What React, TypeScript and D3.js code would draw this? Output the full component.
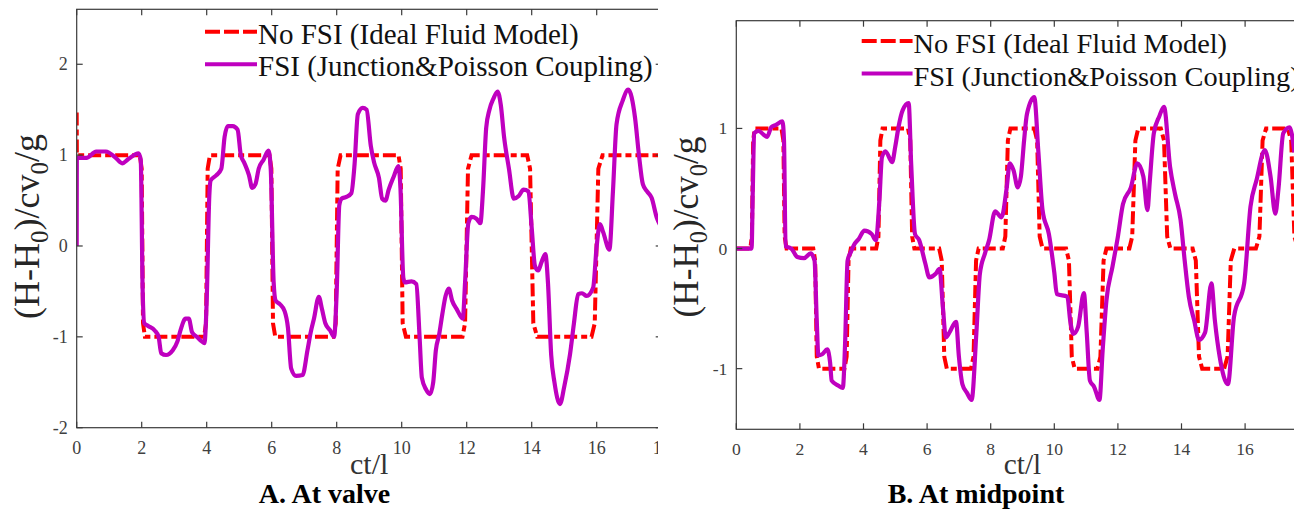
import React from "react";
import * as d3 from "d3";

// ---------- DATA ----------
const xTicks = [0, 2, 4, 6, 8, 10, 12, 14, 16, 18];
const valveYTicks = [-2, -1, 0, 1, 2];
const midYTicks = [-1, 0, 1];
const legendLabels = ["No FSI (Ideal Fluid Model)", "FSI (Junction&Poisson Coupling)"];
const subtitles = ["A. At valve", "B. At midpoint"];

// A. At valve – No FSI (ideal fluid model)
const valveNoFsi: [number, number][] = [
  [0, 1.47], [0.005, 1.0], [1.94, 1], [2.0, 0.85], [2.04, -0.85], [2.1, -1],
  [3.92, -1], [3.98, -0.85], [4.03, 0.85], [4.1, 1],
  [5.93, 1], [5.99, 0.85], [6.04, -0.85], [6.11, -1],
  [7.9, -1], [7.97, -0.85], [8.03, 0.85], [8.12, 1],
  [9.9, 1], [9.97, 0.85], [10.03, -0.85], [10.13, -1],
  [11.87, -1], [11.95, -0.85], [12.04, 0.85], [12.15, 1],
  [13.86, 1], [13.95, 0.85], [14.05, -0.85], [14.17, -1],
  [15.84, -1], [15.94, -0.85], [16.05, 0.85], [16.18, 1],
  [18, 1],
];

// A. At valve – FSI (junction & Poisson coupling)
const valveFsi: [number, number][] = [
  [0, 0], [0.005, 0.97], [0.3, 0.97], [0.6, 1.04], [0.9, 1.04], [1.2, 0.97], [1.4, 0.91], [1.6, 0.96], [1.9, 1.02], [1.97, 0.95],
  [2.03, -0.5], [2.08, -0.85], [2.2, -0.88], [2.4, -0.93], [2.52, -1.0], [2.6, -1.18], [2.75, -1.2], [2.95, -1.15], [3.1, -1.05], [3.2, -0.92], [3.35, -0.8], [3.45, -0.8], [3.55, -0.95], [3.7, -1.0], [3.85, -1.05], [3.93, -1.07],
  [4.0, -0.6], [4.08, 0.55], [4.12, 0.72], [4.3, 0.78], [4.45, 0.85], [4.55, 1.2], [4.65, 1.32], [4.8, 1.32], [4.95, 1.28], [5.05, 1.0], [5.15, 0.92], [5.3, 0.78], [5.4, 0.64], [5.5, 0.68], [5.6, 0.85], [5.75, 0.95], [5.9, 1.05],
  [5.97, 0.85], [6.06, -0.4], [6.12, -0.6], [6.25, -0.64], [6.4, -0.72], [6.5, -0.9], [6.6, -1.35], [6.75, -1.43], [6.95, -1.42], [7.1, -1.15], [7.2, -0.95], [7.3, -0.8], [7.45, -0.56], [7.55, -0.7], [7.65, -0.85], [7.8, -0.93], [7.92, -1.0],
  [8.0, -0.5], [8.08, 0.45], [8.15, 0.52], [8.3, 0.54], [8.45, 0.58], [8.55, 0.9], [8.65, 1.45], [8.8, 1.52], [8.92, 1.5], [9.05, 1.1], [9.15, 0.92], [9.3, 0.75], [9.4, 0.52], [9.5, 0.5], [9.6, 0.62], [9.75, 0.76], [9.9, 0.88],
  [9.96, 0.65], [10.05, -0.35], [10.1, -0.4], [10.3, -0.39], [10.45, -0.42], [10.55, -1.0], [10.62, -1.45], [10.75, -1.58], [10.87, -1.63], [10.97, -1.5], [11.05, -1.15], [11.15, -0.98], [11.25, -0.75], [11.35, -0.55], [11.45, -0.47], [11.55, -0.6], [11.7, -0.7], [11.88, -0.8],
  [11.95, -0.4], [12.05, 0.25], [12.15, 0.32], [12.3, 0.3], [12.42, 0.25], [12.5, 0.6], [12.6, 1.3], [12.7, 1.5], [12.82, 1.62], [12.95, 1.7], [13.05, 1.55], [13.15, 1.2], [13.3, 0.85], [13.45, 0.52], [13.6, 0.55], [13.75, 0.62], [13.9, 0.6],
  [14.0, 0.2], [14.1, -0.22], [14.2, -0.27], [14.3, -0.18], [14.42, -0.09], [14.5, -0.4], [14.6, -1.2], [14.7, -1.5], [14.87, -1.74], [15.0, -1.55], [15.18, -1.19], [15.3, -0.85], [15.43, -0.53], [15.55, -0.52], [15.69, -0.55], [15.89, -0.46],
  [16.0, 0.0], [16.1, 0.24], [16.2, 0.15], [16.39, -0.04], [16.5, 0.6], [16.61, 1.34], [16.8, 1.6], [16.97, 1.72], [17.18, 1.41], [17.3, 1.0], [17.42, 0.68], [17.55, 0.6], [17.69, 0.53], [17.85, 0.31], [18, 0.2],
];

// B. At midpoint – No FSI
const midNoFsi: [number, number][] = [
  [0, 0], [0.44, 0], [0.49, 0.1], [0.53, 0.9], [0.58, 1], [1.42, 1], [1.48, 0.9], [1.52, 0.1], [1.58, 0],
  [2.42, 0], [2.48, -0.1], [2.53, -0.9], [2.6, -1], [3.4, -1], [3.47, -0.9], [3.53, -0.1], [3.6, 0],
  [4.4, 0], [4.47, 0.1], [4.53, 0.9], [4.6, 1], [5.4, 1], [5.47, 0.9], [5.53, 0.1], [5.6, 0],
  [6.38, 0], [6.46, -0.1], [6.54, -0.9], [6.62, -1], [7.38, -1], [7.46, -0.9], [7.54, -0.1], [7.62, 0],
  [8.38, 0], [8.46, 0.1], [8.54, 0.9], [8.62, 1], [9.37, 1], [9.46, 0.9], [9.54, 0.1], [9.63, 0],
  [10.37, 0], [10.46, -0.1], [10.55, -0.9], [10.64, -1], [11.36, -1], [11.45, -0.9], [11.55, -0.1], [11.64, 0],
  [12.36, 0], [12.45, 0.1], [12.55, 0.9], [12.64, 1], [13.35, 1], [13.45, 0.9], [13.55, 0.1], [13.65, 0],
  [14.35, 0], [14.45, -0.1], [14.55, -0.9], [14.65, -1], [15.34, -1], [15.45, -0.9], [15.55, -0.1], [15.66, 0],
  [16.34, 0], [16.45, 0.1], [16.55, 0.9], [16.66, 1], [17.34, 1], [17.45, 0.9], [17.55, 0.1], [17.66, 0],
  [18, 0],
];

// B. At midpoint – FSI
const midFsi: [number, number][] = [
  [0, 0], [0.48, 0], [0.52, 0.5], [0.56, 0.96], [0.7, 0.98], [0.85, 0.95], [0.97, 0.93], [1.1, 1.01], [1.25, 1.03], [1.45, 1.06], [1.5, 0.9], [1.55, 0.02],
  [1.73, 0], [1.92, -0.07], [2.13, -0.08], [2.34, -0.04], [2.46, -0.1], [2.53, -0.6], [2.58, -0.89], [2.7, -0.88], [2.86, -0.84], [2.95, -0.95], [3.0, -1.1], [3.2, -1.14], [3.35, -1.16],
  [3.42, -0.8], [3.5, -0.1], [3.6, -0.03], [3.7, 0.03], [3.85, 0.08], [4.03, 0.15], [4.26, 0.12], [4.39, 0.07], [4.5, 0.4], [4.58, 0.76], [4.69, 0.81], [4.9, 0.72], [5.0, 0.85], [5.1, 1.01], [5.23, 1.15], [5.42, 1.21],
  [5.5, 0.7], [5.62, 0.12], [5.75, 0.07], [5.94, -0.12], [6.07, -0.24], [6.27, -0.21], [6.39, -0.17], [6.5, -0.5], [6.59, -0.74], [6.7, -0.7], [6.91, -0.61], [7.0, -0.9], [7.11, -1.13], [7.25, -1.2], [7.4, -1.26],
  [7.55, -0.7], [7.66, -0.21], [7.82, -0.04], [7.95, 0.07], [8.14, 0.31], [8.34, 0.26], [8.5, 0.5], [8.6, 0.71], [8.72, 0.65], [8.85, 0.51], [8.95, 0.6], [9.05, 0.9], [9.14, 1.12], [9.37, 1.26],
  [9.5, 0.8], [9.63, 0.32], [9.83, 0.12], [10.0, -0.2], [10.08, -0.38], [10.41, -0.4], [10.5, -0.6], [10.6, -0.71], [10.75, -0.65], [10.93, -0.37], [11.02, -0.7], [11.12, -1.1], [11.25, -1.15], [11.42, -1.26],
  [11.52, -0.85], [11.64, -0.43], [11.83, -0.15], [12.0, 0.1], [12.16, 0.37], [12.41, 0.51], [12.61, 0.71], [12.8, 0.6], [12.93, 0.32], [13.0, 0.55], [13.13, 0.96], [13.3, 1.1], [13.45, 1.18],
  [13.64, 0.68], [13.8, 0.45], [13.97, 0.24], [14.1, -0.1], [14.23, -0.4], [14.4, -0.6], [14.55, -0.76], [14.74, -0.7], [14.94, -0.29], [15.05, -0.6], [15.2, -0.9], [15.46, -1.13],
  [15.65, -0.57], [15.97, -0.29], [16.17, 0.35], [16.36, 0.57], [16.62, 0.82], [16.8, 0.6], [16.95, 0.29], [17.05, 0.5], [17.2, 0.96], [17.4, 1.01], [17.55, 0.8],
];

// ---------- STYLE ----------
const FONT = "'Liberation Serif', 'Times New Roman', serif";
const RED = "#ff0000";
const PURPLE = "#bf00bf";
const AXIS = "#3a3a3a";
const TICKTXT = "#404040";
const DASH = "13 4 6 4";

type PanelProps = {
  id: string;
  left: number;
  unitX: number;
  top: number;
  bottom: number;
  yDomain: [number, number];
  yTicks: number[];
  clipLeft: number;
  clipRight: number;
  noFsi: [number, number][];
  fsi: [number, number][];
  legendX: number;
  legendY: number;
  subtitle: string;
  subtitleX: number;
  fs: number;
  yLabelShift: number;
};

function YLabel({ x, y, s }: { x: number; y: number; s: number }) {
  const sub = 9 * s;
  return (
    <text
      transform={`translate(${x},${y}) rotate(-90)`}
      textAnchor="middle"
      fontFamily={FONT}
      fontSize={36 * s}
      fill="#262626"
    >
      <tspan>(H-H</tspan>
      <tspan fontSize={25 * s} dy={sub}>0</tspan>
      <tspan dy={-sub}>)/cv</tspan>
      <tspan fontSize={25 * s} dy={sub}>0</tspan>
      <tspan dy={-sub}>/g</tspan>
    </text>
  );
}

function Panel(p: PanelProps) {
  const s = p.fs;
  const x = d3.scaleLinear().domain([0, 18]).range([p.left, p.left + 18 * p.unitX]);
  const y = d3.scaleLinear().domain(p.yDomain).range([p.bottom, p.top]);
  const line = d3
    .line<[number, number]>()
    .x((d) => x(d[0]))
    .y((d) => y(d[1]));
  const smooth = d3
    .line<[number, number]>()
    .x((d) => x(d[0]))
    .y((d) => y(d[1]))
    .curve(d3.curveMonotoneX);
  const right = x(18);
  const tickLen = 6;
  return (
    <g>
      <defs>
        <clipPath id={`clip-${p.id}`}>
          <rect x={p.clipLeft} y={0} width={p.clipRight - p.clipLeft} height={511} />
        </clipPath>
        <clipPath id={`plot-${p.id}`}>
          <rect x={p.left} y={p.top} width={right - p.left} height={p.bottom - p.top} />
        </clipPath>
      </defs>
      <g clipPath={`url(#clip-${p.id})`}>
        {/* data */}
        <g clipPath={`url(#plot-${p.id})`}>
          <path d={line(p.noFsi) || ""} fill="none" stroke={RED} strokeWidth={4} strokeDasharray={DASH} />
          <path d={smooth(p.fsi) || ""} fill="none" stroke={PURPLE} strokeWidth={4.2} strokeLinejoin="round" />
        </g>
        {/* box */}
        <rect x={p.left} y={p.top} width={right - p.left} height={p.bottom - p.top} fill="none" stroke={AXIS} strokeWidth={1.2} />
        {xTicks.map((t) => (
          <g key={`xt${t}`}>
            <line x1={x(t)} x2={x(t)} y1={p.bottom} y2={p.bottom - tickLen} stroke={AXIS} strokeWidth={1.2} />
            <line x1={x(t)} x2={x(t)} y1={p.top} y2={p.top + tickLen} stroke={AXIS} strokeWidth={1.2} />
            {x(t) < p.clipRight + 4 && (
              <text x={x(t)} y={p.bottom + 26} textAnchor="middle" fontFamily={FONT} fontSize={18 * s} fill={TICKTXT}>
                {t}
              </text>
            )}
          </g>
        ))}
        {p.yTicks.map((t) => (
          <g key={`yt${t}`}>
            <line x1={p.left} x2={p.left + tickLen} y1={y(t)} y2={y(t)} stroke={AXIS} strokeWidth={1.2} />
            <line x1={right} x2={right - tickLen} y1={y(t)} y2={y(t)} stroke={AXIS} strokeWidth={1.2} />
            <text x={p.left - 9} y={y(t) + 6} textAnchor="end" fontFamily={FONT} fontSize={18 * s} fill={TICKTXT}>
              {t}
            </text>
          </g>
        ))}
        {/* legend */}
        {legendLabels.map((lab, i) => {
          const ly = p.legendY + i * 32.5;
          return (
            <g key={lab}>
              <line
                x1={p.legendX}
                x2={p.legendX + 52 * s}
                y1={ly}
                y2={ly}
                stroke={i === 0 ? RED : PURPLE}
                strokeWidth={4}
                strokeDasharray={i === 0 ? "15 4" : undefined}
              />
              <text x={p.legendX + 53 * s} y={ly + 12} fontFamily={FONT} fontSize={29 * s} fill="#111">
                {lab}
              </text>
            </g>
          );
        })}
        {/* axis titles */}
        <text x={(p.left + right) / 2} y={474} textAnchor="middle" fontFamily={FONT} fontSize={30 * s} fill="#333">
          ct/l
        </text>
        <YLabel x={p.left - 38} y={(p.top + p.bottom) / 2 + p.yLabelShift} s={s} />
        <text x={p.subtitleX} y={503} textAnchor="middle" fontFamily={FONT} fontSize={28} fontWeight="bold" fill="#000">
          {p.subtitle}
        </text>
      </g>
    </g>
  );
}

export default function App() {
  return (
    <svg
      width={1304}
      height={511}
      viewBox="0 0 1304 511"
      style={{ position: "absolute", left: 0, top: 0, display: "block", background: "#fff" }}
    >
      <rect x={0} y={0} width={1304} height={511} fill="#fff" />
      <Panel
        id="a"
        left={76.7}
        unitX={32.5}
        top={9.3}
        bottom={427.7}
        yDomain={[-2, 2.605]}
        yTicks={valveYTicks}
        clipLeft={0}
        clipRight={658}
        noFsi={valveNoFsi}
        fsi={valveFsi}
        legendX={205}
        legendY={31.7}
        subtitle={subtitles[0]}
        subtitleX={324.5}
        fs={1}
        yLabelShift={8}
      />
      <Panel
        id="b"
        left={736.3}
        unitX={31.8}
        top={20.7}
        bottom={429.3}
        yDomain={[-1.505, 1.897]}
        yTicks={midYTicks}
        clipLeft={660}
        clipRight={1294}
        noFsi={midNoFsi}
        fsi={midFsi}
        legendX={861.7}
        legendY={41}
        subtitle={subtitles[1]}
        subtitleX={976}
        fs={0.978}
        yLabelShift={2}
      />
    </svg>
  );
}
